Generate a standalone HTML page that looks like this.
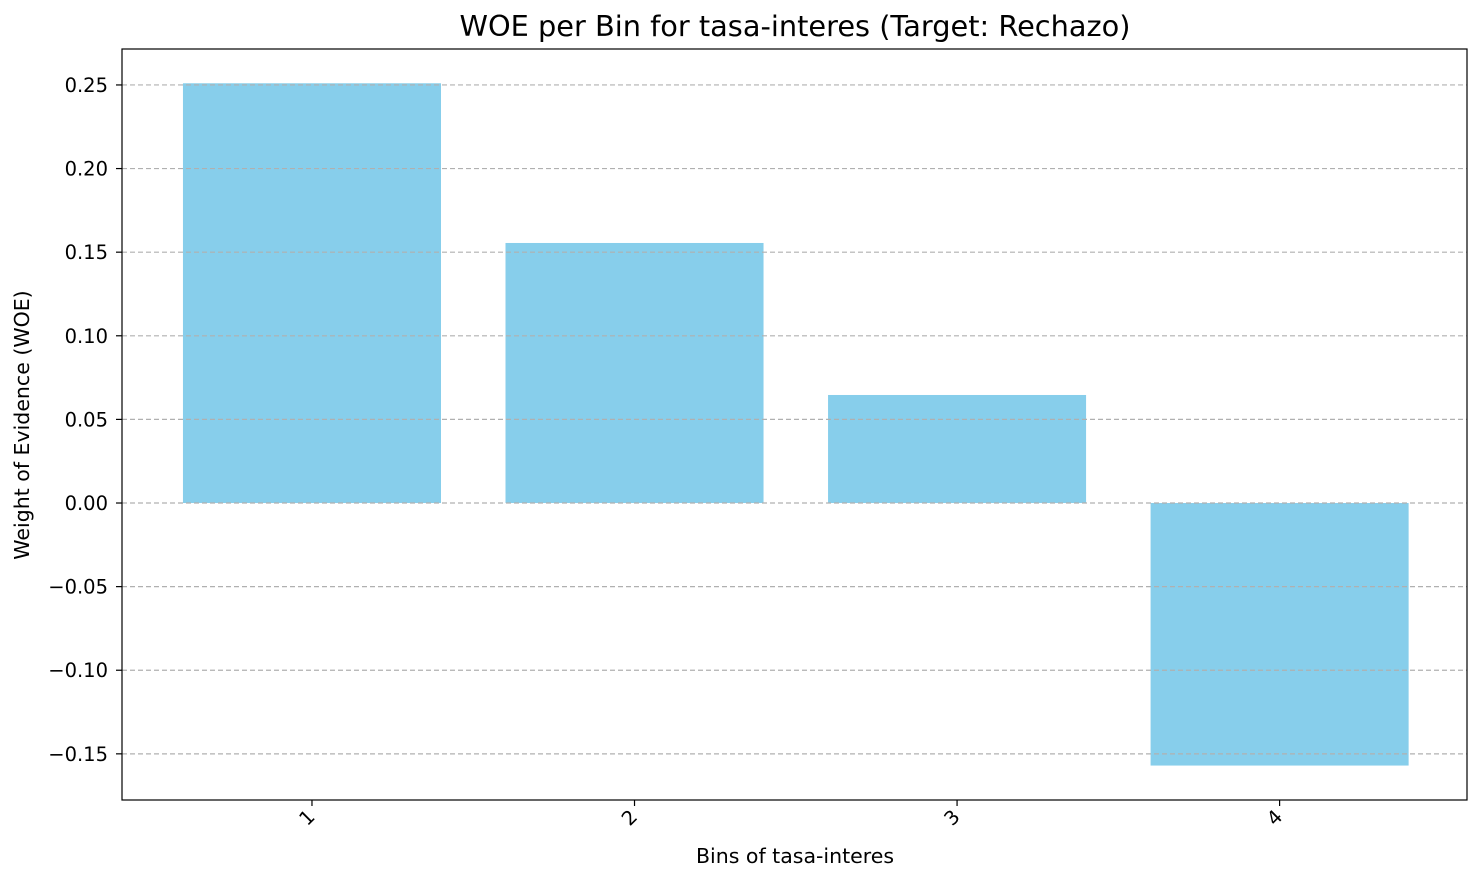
<!DOCTYPE html>
<html><head><meta charset="utf-8"><style>
body{margin:0;background:#fff;font-family:"DejaVu Sans","Liberation Sans",sans-serif;}
</style></head><body>
<svg id="chart" width="1484" height="882" xmlns="http://www.w3.org/2000/svg" font-family="DejaVu Sans, Liberation Sans, sans-serif">
<text x="795" y="36" font-size="28.8" text-anchor="middle" fill="#000">WOE per Bin for tasa-interes (Target: Rechazo)</text>
<text x="795" y="863" font-size="20.5" text-anchor="middle">Bins of tasa-interes</text>
<text transform="translate(29,425) rotate(-90)" font-size="20.5" text-anchor="middle">Weight of Evidence (WOE)</text>
<g id="bars"></g><g id="grid"></g><g id="axes"></g>
</svg>
<script>
const categories=["1","2","3","4"];
const woeValues=[0.251,0.1555,0.0646,-0.157];
const yTicks=[0.25,0.20,0.15,0.10,0.05,0.00,-0.05,-0.10,-0.15];
const yTickLabels=["0.25","0.20","0.15","0.10","0.05","0.00","\u22120.05","\u22120.10","\u22120.15"];
const L=122,R=1467,T=49,B=800;
const yMin=-0.1776,yMax=0.2715,xMin=-0.589,xMax=3.581;
const ys=v=>B-(v-yMin)/(yMax-yMin)*(B-T);
const xs=v=>L+(v-xMin)/(xMax-xMin)*(R-L);
const NS="http://www.w3.org/2000/svg";
function mk(tag,attrs,parent){const e=document.createElementNS(NS,tag);for(const k in attrs)e.setAttribute(k,attrs[k]);document.getElementById(parent).appendChild(e);return e;}
const bw=(xs(1)-xs(0))*0.8;
woeValues.forEach((v,i)=>{
 const y0=ys(0),y1=ys(v);
 const r=mk('rect',{x:xs(i)-bw/2,y:Math.min(y0,y1),width:bw,height:Math.abs(y1-y0),fill:'#87ceeb'},'bars');
 
 
});
yTicks.forEach((t,i)=>{
 const y=ys(t);
 const g=mk('line',{x1:L,x2:R,y1:y,y2:y,stroke:'#b0b0b0','stroke-dasharray':'5,3','stroke-width':1.2},'grid');
 
 
 mk('line',{x1:L-6,x2:L,y1:y,y2:y,stroke:'#000','stroke-width':1.2},'axes');
 const tx=mk('text',{x:L-14,y:y+7,'font-size':19.5,'text-anchor':'end'},'axes');
 tx.textContent=yTickLabels[i];
 
 
});
categories.forEach((c,i)=>{
 const x=xs(i);
 mk('line',{x1:x,x2:x,y1:B,y2:B+6,stroke:'#000','stroke-width':1.2},'axes');
 const tx=mk('text',{x:x+4,y:B+18,'font-size':19.5,'text-anchor':'end',transform:`rotate(-45 ${x+4} ${B+18})`},'axes');
 tx.textContent=c;
 
 
});
const f=mk('rect',{x:L,y:T,width:R-L,height:B-T,fill:'none',stroke:'#000','stroke-width':1.2},'axes');


</script>
</body></html>
